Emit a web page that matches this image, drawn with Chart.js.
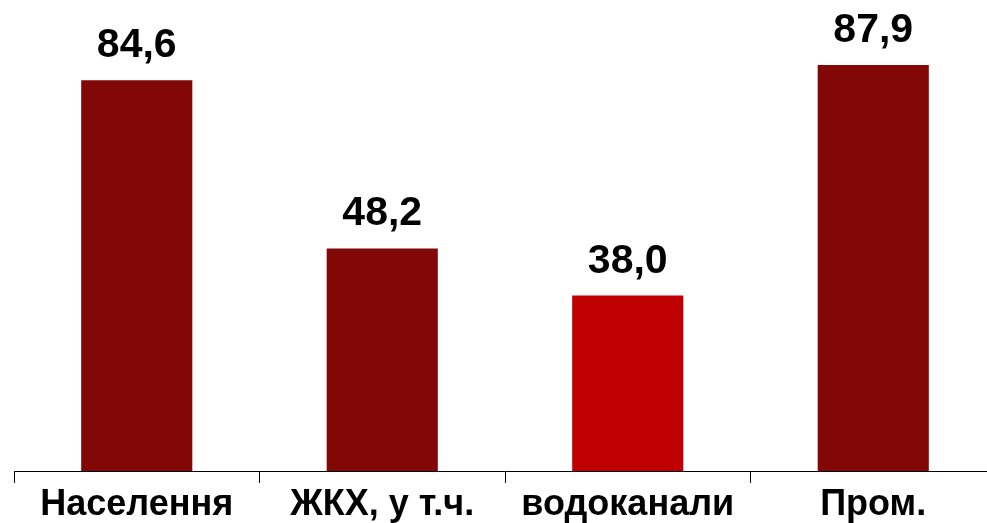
<!DOCTYPE html>
<html>
<head>
<meta charset="utf-8">
<script src="https://cdn.jsdelivr.net/npm/chart.js@4/dist/chart.umd.min.js"></script>
<style>
  html, body { margin: 0; padding: 0; background: #fff; overflow: hidden; }
  #wrap { width: 996px; height: 523px; }
</style>
</head>
<body>
<div id="wrap"><canvas id="chart"></canvas></div>
<script>
const categories = ["Населення", "ЖКХ, у т.ч.", "водоканали", "Пром."];
const values = [84.6, 48.2, 38.0, 87.9];
const barColors = ["#820808", "#820808", "#C00000", "#820808"];

// value labels above each bar, comma decimals
const valueLabels = {
    id: "valueLabels",
    afterDatasetsDraw(chart) {
        const ctx = chart.ctx;
        const meta = chart.getDatasetMeta(0);
        ctx.save();
        ctx.font = "bold 41px 'Liberation Sans', Arial, sans-serif";
        ctx.fillStyle = "#000";
        ctx.textAlign = "center";
        ctx.textBaseline = "alphabetic";
        meta.data.forEach((bar, i) => {
            const txt = values[i].toFixed(1).replace(".", ",");
            ctx.fillText(txt, bar.x, bar.y - 23);
        });
        ctx.restore();
    }
};

new Chart(document.getElementById("chart"), {
    type: "bar",
    data: {
        labels: categories,
        datasets: [{
            data: values,
            backgroundColor: barColors,
            barPercentage: 0.9,
            categoryPercentage: 0.503
        }]
    },
    options: {
        responsive: true,
        maintainAspectRatio: false,
        animation: false,
        layout: { padding: { left: 14, right: 0, top: 0, bottom: 0 } },
        plugins: { legend: { display: false }, tooltip: { enabled: false } },
        scales: {
            x: {
                afterFit(scale) { scale.height = 52; },
                grid: {
                    display: true,
                    drawOnChartArea: false,
                    drawTicks: true,
                    tickLength: 12,
                    color: "#000",
                    lineWidth: 1
                },
                border: { display: true, color: "#000", width: 1 },
                ticks: {
                    color: "#000",
                    padding: 0,
                    maxRotation: 0,
                    autoSkip: false,
                    font: { family: "'Liberation Sans', Arial, sans-serif", size: 36, weight: "bold" }
                }
            },
            y: {
                display: false,
                min: 0,
                max: 102
            }
        }
    },
    plugins: [valueLabels]
});
</script>
</body>
</html>
